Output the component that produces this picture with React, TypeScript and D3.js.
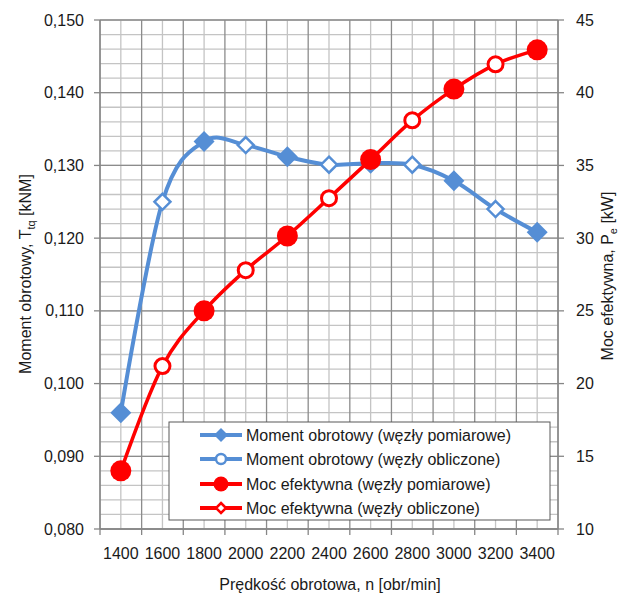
import React from "react";
import * as d3 from "d3";

// rpm categories on the x axis
const rpm = ["1400", "1600", "1800", "2000", "2200", "2400", "2600", "2800", "3000", "3200", "3400"];
// torque T_tq [kNm], left axis
const torque = [0.096, 0.125, 0.1333, 0.1328, 0.1312, 0.1301, 0.1303, 0.1301, 0.1279, 0.124, 0.1208];
// effective power P_e [kW], right axis
const power = [14.0, 21.2, 25.0, 27.8, 30.15, 32.75, 35.4, 38.1, 40.25, 41.95, 42.95];
// true = measured node (filled), false = calculated node (open)
const measured = [true, false, true, false, true, false, true, false, true, false, true];

const leftTicks = [0.08, 0.09, 0.1, 0.11, 0.12, 0.13, 0.14, 0.15];
const rightTicks = [10, 15, 20, 25, 30, 35, 40, 45];
const legendLabels = [
  "Moment obrotowy (węzły pomiarowe)",
  "Moment obrotowy (węzły obliczone)",
  "Moc efektywna (węzły pomiarowe)",
  "Moc efektywna (węzły obliczone)",
];

const BLUE = "#558ed5";
const RED = "#ff0000";
const FONT = "'Liberation Sans', Arial, sans-serif";

const W = 624;
const H = 597;
const plot = { left: 100, right: 558, top: 20, bottom: 529 };

const diamond = (cx: number, cy: number, r: number) =>
  `M${cx},${cy - r}L${cx + r},${cy}L${cx},${cy + r}L${cx - r},${cy}Z`;

export default function App() {
  const x = d3.scaleBand().domain(rpm).range([plot.left, plot.right]).padding(0);
  const cx = (d: string) => (x(d) as number) + x.bandwidth() / 2;
  const yL = d3.scaleLinear().domain([0.08, 0.15]).range([plot.bottom, plot.top]);
  const yR = d3.scaleLinear().domain([10, 45]).range([plot.bottom, plot.top]);

  const minorY = d3.range(0, 36).map((i) => 0.08 + i * 0.002);
  const bounds = rpm.map((d) => x(d) as number).concat([plot.right]);

  const torqueLine = d3
    .line<number>()
    .x((_, i) => cx(rpm[i]))
    .y((d) => yL(d))
    .curve(d3.curveCatmullRom.alpha(0))(torque);
  const powerLine = d3
    .line<number>()
    .x((_, i) => cx(rpm[i]))
    .y((d) => yR(d))
    .curve(d3.curveCatmullRom.alpha(0))(power);

  const fmt = (v: number) => v.toFixed(3).replace(".", ",");
  const axisColor = "#868686";

  const lg = { x: 169, y: 422, w: 381, h: 98 };
  const rowY = [435, 459, 484, 508];

  return (
    <svg width={W} height={H} style={{ position: "absolute", left: 0, top: 0, background: "#fff" }}>
      {/* minor grid */}
      <g stroke="#c4c4c4" strokeWidth={1.3}>
        {minorY.map((v, i) => (
          <line key={"mh" + i} x1={plot.left} x2={plot.right} y1={yL(v)} y2={yL(v)} />
        ))}
        {rpm.map((d) => (
          <line key={"mv" + d} x1={cx(d)} x2={cx(d)} y1={plot.top} y2={plot.bottom} />
        ))}
      </g>
      {/* major grid */}
      <g stroke="#8c8c8c" strokeWidth={1.3}>
        {leftTicks.map((v) => (
          <line key={"h" + v} x1={plot.left} x2={plot.right} y1={yL(v)} y2={yL(v)} />
        ))}
        {bounds.map((b, i) => (
          <line key={"v" + i} x1={b} x2={b} y1={plot.top} y2={plot.bottom} />
        ))}
      </g>

      {/* axes */}
      <g stroke={axisColor} strokeWidth={1.3}>
        <line x1={plot.left} x2={plot.left} y1={plot.top} y2={plot.bottom} />
        <line x1={plot.right} x2={plot.right} y1={plot.top} y2={plot.bottom} />
        <line x1={plot.left} x2={plot.right} y1={plot.bottom} y2={plot.bottom} />
        {leftTicks.map((v) => (
          <line key={"lt" + v} x1={plot.left - 6} x2={plot.left} y1={yL(v)} y2={yL(v)} />
        ))}
        {rightTicks.map((v) => (
          <line key={"rt" + v} x1={plot.right} x2={plot.right + 6} y1={yR(v)} y2={yR(v)} />
        ))}
        {bounds.map((b, i) => (
          <line key={"bt" + i} x1={b} x2={b} y1={plot.bottom} y2={plot.bottom + 6} />
        ))}
      </g>

      {/* tick labels */}
      <g fontFamily={FONT} fontSize={16} fill="#1a1a1a">
        {leftTicks.map((v) => (
          <text key={"ll" + v} x={84} y={yL(v)} dy="0.35em" textAnchor="end">
            {fmt(v)}
          </text>
        ))}
        {rightTicks.map((v) => (
          <text key={"rl" + v} x={576} y={yR(v)} dy="0.35em">
            {v}
          </text>
        ))}
        {rpm.map((d) => (
          <text key={"xl" + d} x={cx(d)} y={559} textAnchor="middle">
            {d}
          </text>
        ))}
      </g>

      {/* axis titles */}
      <g fontFamily={FONT} fontSize={16} fill="#1a1a1a">
        <text x={330} y={590} textAnchor="middle">
          Prędkość obrotowa, n [obr/min]
        </text>
        <text transform="translate(31,274) rotate(-90)" textAnchor="middle">
          Moment obrotowy, T<tspan fontSize={11} dy={4}>tq</tspan>
          <tspan dy={-4}> [kNM]</tspan>
        </text>
        <text transform="translate(613,276) rotate(-90)" textAnchor="middle">
          Moc efektywna, P<tspan fontSize={11} dy={4}>e</tspan>
          <tspan dy={-4}> [kW]</tspan>
        </text>
      </g>

      {/* torque series */}
      <path d={torqueLine ?? ""} fill="none" stroke={BLUE} strokeWidth={4} />
      {torque.map((v, i) =>
        measured[i] ? (
          <path key={"td" + i} d={diamond(cx(rpm[i]), yL(v), 10.5)} fill={BLUE} />
        ) : (
          <path key={"td" + i} d={diamond(cx(rpm[i]), yL(v), 8)} fill="#fff" stroke={BLUE} strokeWidth={2.5} />
        )
      )}

      {/* power series */}
      <path d={powerLine ?? ""} fill="none" stroke={RED} strokeWidth={3.5} />
      {power.map((v, i) =>
        measured[i] ? (
          <circle key={"pc" + i} cx={cx(rpm[i])} cy={yR(v)} r={10.5} fill={RED} />
        ) : (
          <circle key={"pc" + i} cx={cx(rpm[i])} cy={yR(v)} r={7.5} fill="#fff" stroke={RED} strokeWidth={3} />
        )
      )}

      {/* legend */}
      <rect x={lg.x} y={lg.y} width={lg.w} height={lg.h} fill="#fff" stroke="#595959" strokeWidth={1} />
      {legendLabels.map((t, i) => {
        const col = i < 2 ? BLUE : RED;
        const my = rowY[i];
        const mx = 221;
        return (
          <g key={"lg" + i}>
            <line x1={200} x2={242} y1={my} y2={my} stroke={col} strokeWidth={4} />
            {i === 0 && <path d={diamond(mx, my, 7)} fill={BLUE} />}
            {i === 1 && <circle cx={mx} cy={my} r={5} fill="#fff" stroke={BLUE} strokeWidth={2.5} />}
            {i === 2 && <circle cx={mx} cy={my} r={7.5} fill={RED} />}
            {i === 3 && <path d={diamond(mx, my, 5)} fill="#fff" stroke={RED} strokeWidth={2.5} />}
            <text x={246} y={my} dy="0.35em" fontFamily={FONT} fontSize={16} fill="#1a1a1a">
              {t}
            </text>
          </g>
        );
      })}
    </svg>
  );
}
